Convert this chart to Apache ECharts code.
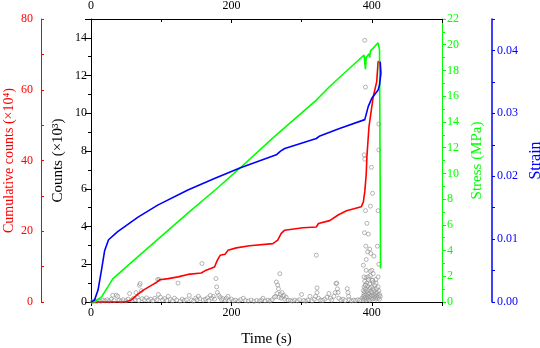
<!DOCTYPE html>
<html>
<head>
<meta charset="utf-8">
<script src="https://cdn.jsdelivr.net/npm/echarts@6/dist/echarts.min.js"></script>
<style>
  html, body { margin: 0; padding: 0; background: #fff; }
  #chart { width: 540px; height: 348px; }
</style>
</head>
<body>
<div id="chart"></div>
<script>
// AE counts (x10^3) against time (s) - quiet background hits
const countsBase = [
  [2,0.02],[5,0.05],[8,0.03],[11,0.08],[14,0.04],[17,0.1],[20,0.06],[23,0.12],[26,0.05],[29,0.15],
  [33,0.08],[40,0.1],[43,0.05],[46,0.12],[50,0.07],[53,0.15],[58,0.1],[61,0.2],[63,0.12],[66,0.25],
  [68,0.08],[73,0.18],[76,0.12],[79,0.22],[82,0.1],[85,0.15],[88,0.06],[91,0.2],[94,0.12],[99,0.25],
  [102,0.1],[105,0.18],[108,0.08],[113,0.14],[116,0.06],[119,0.2],[122,0.1],[127,0.05],[130,0.15],[133,0.08],
  [136,0.12],[143,0.1],[146,0.05],[149,0.2],[151,0.12],[155,0.18],[160,0.1],[163,0.15],[166,0.22],[168,0.08],
  [172,0.2],[174,0.3],[176,0.15],[184,0.25],[186,0.12],[188,0.18],[191,0.1],[193,0.2],[197,0.08],[200,0.15],
  [203,0.06],[206,0.1],[210,0.05],[213,0.12],[220,0.08],[224,0.05],[228,0.1],[232,0.04],[236,0.08],[240,0.05],
  [243,0.1],[248,0.06],[252,0.1],[255,0.05],[258,0.12],[261,0.25],[263,0.3],[265,0.45],[268,0.25],[271,0.2],
  [273,0.3],[276,0.15],[278,0.25],[281,0.1],[284,0.08],[287,0.05],[290,0.1],[294,0.06],[297,0.12],[303,0.08],
  [306,0.05],[309,0.1],[315,0.06],[318,0.15],[320,0.3],[324,0.2],[327,0.1],[330,0.08],[333,0.15],[336,0.25],
  [341,0.2],[343,0.1],[346,0.3],[348,0.5],[353,0.2],[356,0.1],[359,0.15],[362,0.08],[368,0.12],[371,0.06],
  [374,0.1],[377,0.08],[380,0.12],[383,0.1],[386,0.2]
];
// larger isolated hits
const countsEvents = [
  [31,0.36],[36,0.36],[38,0.3],[55,0.45],[64,0.5],[69,0.89],[70,0.98],[72,0.6],[95,1.2],[97,1.19],
  [96,0.4],[110,0.3],[124,1.0],[140,0.35],[153,0.3],[158,2.04],[170,0.35],[178,1.24],[179,0.8],[180,0.5],
  [182,0.35],[195,0.3],[217,0.2],[245,0.2],[264,1.06],[266,0.9],[267,0.7],[269,1.5],[270,0.4],[272,0.5],
  [275,0.35],[300,0.4],[312,0.3],[321,2.48],[322,0.75],[322,0.5],[339,0.45],[349,0.98],[350,1.0],[351,0.7],
  [352,0.5],[365,0.71],[366,0.5],[367,0.3]
];
// burst before failure
const countsBurst = [
  [388,0.1],[388,0.3],[388,0.6],[389,0.2],[389,0.45],[389,0.8],[390,0.15],[390,0.35],[390,0.55],[390,1.1],
  [391,0.25],[391,0.7],[391,0.9],[392,0.1],[392,0.4],[392,1.3],[393,0.2],[393,0.6],[393,1.0],[394,0.3],
  [394,0.5],[394,0.85],[395,0.15],[395,0.4],[395,1.2],[396,0.25],[396,0.65],[397,0.1],[397,0.45],[397,0.95],
  [398,0.3],[398,0.75],[398,1.4],[399,0.2],[399,0.55],[400,0.35],[400,0.8],[400,1.15],[401,0.15],[401,0.5],
  [402,0.3],[402,0.7],[402,1.05],[403,0.2],[403,0.6],[404,0.4],[404,0.9],[405,0.25],[405,0.55],[406,0.15],
  [406,0.45],[406,1.2],[407,0.3],[407,0.7],[408,0.2],[408,0.5],[409,0.35],[409,0.8],[410,0.25],[410,0.6],
  [411,0.15],[411,0.4],[412,0.3],
  [390,13.87],[391,11.39],[410,9.43],[410,8.06],[389,7.8],[390,7.57],[399.5,7.14],[401,5.76],[398,5.08],[391,4.84],
  [409,4.84],[393,4.17],[389.6,3.67],[395,3.6],[391.5,2.96],[397,2.8],[408,2.96],[398.5,2.57],[394,2.66],[403,2.43],
  [392,2.25],[410,2.0],[388,1.95],[392,1.68],[398,1.63],[400,1.68],[402,1.5],[389,1.33],[395,1.33],[401,1.15],
  [409,1.33],[391,0.89],[406,1.0]
];
// cumulative counts (x10^4)
const cumulative = [
  [0,0],[48,0],[57,0.5],[67,2.2],[74,3.3],[86,4.7],[93,5.5],[98,6.3],[110,6.6],[124,7.1],
  [138,7.8],[157,8.2],[164,9.0],[176,9.9],[178,10.9],[181,12.2],[184,13.2],[191,13.5],[195,14.6],[207,15.3],
  [226,15.9],[259,16.5],[266,17.5],[271,19.4],[276,20.3],[302,21],[321,21.2],[324,22.2],[340,23.0],[352,24.6],
  [364,25.8],[385,26.9],[388,28.3],[390,31.2],[392,36],[393,41],[396,49.6],[402,58],[407,62.3],[409,68],[412,68]
];
// stress (MPa)
const stress = [
  [0,0],[5,0],[15,0.4],[24,1.17],[31,1.8],[60,3.2],[100,5.1],[140,7.0],[181,8.9],[212,10.4],
  [260,12.8],[321,15.7],[340,16.75],[389,19.2],[390,18.6],[391,18.1],[392,19.0],[393,19.1],[396,19.3],[397,19.0],
  [398,19.5],[409,20.15],[410,19.9],[411,19.6],[412,19.5],[412.5,2.6]
];
// strain
const strain = [
  [0,0],[5,0.0003],[10,0.0019],[15,0.0051],[19.5,0.0082],[25,0.0099],[38,0.0112],[67,0.0135],[95,0.0154],[138,0.0178],
  [175,0.0196],[212,0.0213],[264,0.0234],[270,0.024],[276,0.0244],[321,0.026],[326,0.0264],[354,0.0276],[390,0.029],[395,0.0311],
  [400,0.0324],[409,0.0337],[411,0.0345],[413,0.0364],[412,0.0382]
];

const FONT = 'Liberation Serif';
const RED = '#ff0000', GREEN = '#00ff00', BLUE = '#0000ff';

function yAx(opt) {
  return Object.assign({
    type: 'value',
    nameLocation: 'middle',
    nameMoveOverlap: false,
    splitLine: { show: false },
    axisLine: { show: true, onZero: false, lineStyle: { color: '#000', width: 1 } },
    axisTick: { show: true, length: 4, lineStyle: { color: '#000' } },
    minorTick: { show: true, splitNumber: 2, length: 3, lineStyle: { color: '#000' } },
    axisLabel: { fontFamily: FONT, fontSize: 12, color: '#000', margin: 4, showMaxLabel: false },
    nameTextStyle: { fontFamily: FONT, fontSize: 15, color: '#000' }
  }, opt);
}

const chart = echarts.init(document.getElementById('chart'));
chart.setOption({
  animation: false,
  backgroundColor: '#fff',
  grid: { left: 91, right: 98, top: 19, bottom: 46, outerBoundsMode: 'none', containLabel: false },
  xAxis: [
    {
      type: 'value', position: 'bottom', min: 0, max: 500, interval: 200,
      name: 'Time (s)', nameLocation: 'middle', nameGap: 30, nameMoveOverlap: false,
      nameTextStyle: { fontFamily: FONT, fontSize: 15, color: '#000' },
      splitLine: { show: false },
      axisLine: { onZero: false, lineStyle: { color: '#000' } },
      axisTick: { length: 4, lineStyle: { color: '#000' } },
      minorTick: { show: true, splitNumber: 2, length: 3, lineStyle: { color: '#000' } },
      axisLabel: { fontFamily: FONT, fontSize: 12, color: '#000', margin: 5, showMaxLabel: false }
    },
    {
      type: 'value', position: 'top', min: 0, max: 500, interval: 200,
      splitLine: { show: false },
      axisLine: { onZero: false, lineStyle: { color: '#000' } },
      axisTick: { inside: true, length: 4, lineStyle: { color: '#000' } },
      minorTick: { show: true, splitNumber: 2, length: 3, lineStyle: { color: '#000' } },
      axisLabel: { fontFamily: FONT, fontSize: 12, color: '#000', margin: 7, showMaxLabel: false }
    }
  ],
  yAxis: [
    yAx({
      position: 'left', min: 0, max: 15, interval: 2,
      name: 'Counts (×10³)', nameGap: 25,
      axisTick: { show: true, length: 6, lineStyle: { color: '#000' } }
    }),
    yAx({
      position: 'left', offset: 50, min: 0, max: 80, interval: 20,
      name: 'Cumulative counts (×10⁴)', nameGap: 25,
      axisLine: { show: true, onZero: false, lineStyle: { color: RED, width: 1 } },
      axisTick: { show: true, inside: true, length: 3, lineStyle: { color: RED } },
      minorTick: { show: true, splitNumber: 2, length: 3, lineStyle: { color: RED } },
      axisLabel: { fontFamily: FONT, fontSize: 12, color: RED, margin: 8, showMaxLabel: true },
      nameTextStyle: { fontFamily: FONT, fontSize: 14, color: RED }
    }),
    yAx({
      position: 'right', min: 0, max: 22, interval: 2,
      name: 'Stress (MPa)', nameGap: 28,
      axisLine: { show: true, onZero: false, lineStyle: { color: GREEN, width: 1 } },
      axisTick: { show: true, length: 4, lineStyle: { color: GREEN } },
      minorTick: { show: true, splitNumber: 2, length: 3, lineStyle: { color: GREEN } },
      axisLabel: { fontFamily: FONT, fontSize: 12, color: GREEN, margin: 5, showMaxLabel: true },
      nameTextStyle: { fontFamily: FONT, fontSize: 15, color: GREEN }
    }),
    yAx({
      position: 'right', offset: 50, min: 0, max: 0.045, interval: 0.01,
      name: 'Strain', nameGap: 36,
      axisLine: { show: true, onZero: false, lineStyle: { color: BLUE, width: 1.5 } },
      axisTick: { show: true, length: 3, lineStyle: { color: BLUE } },
      minorTick: { show: true, splitNumber: 2, length: 3, lineStyle: { color: BLUE } },
      axisLabel: { fontFamily: FONT, fontSize: 12, color: BLUE, margin: 5, showMaxLabel: false,
        formatter: v => v.toFixed(2) },
      nameTextStyle: { fontFamily: FONT, fontSize: 16, color: BLUE }
    })
  ],
  series: [
    {
      type: 'scatter', xAxisIndex: 0, yAxisIndex: 0, symbol: 'circle', symbolSize: 4,
      itemStyle: { color: 'rgba(255,255,255,0.3)', borderColor: '#8a8a8a', borderWidth: 0.8 },
      data: countsBase.concat(countsEvents, countsBurst)
    },
    {
      type: 'line', xAxisIndex: 0, yAxisIndex: 1, showSymbol: false,
      lineStyle: { color: RED, width: 1.6 }, data: cumulative
    },
    {
      type: 'line', xAxisIndex: 0, yAxisIndex: 2, showSymbol: false,
      lineStyle: { color: GREEN, width: 1.6 }, data: stress
    },
    {
      type: 'line', xAxisIndex: 0, yAxisIndex: 3, showSymbol: false,
      lineStyle: { color: BLUE, width: 1.6 }, data: strain
    }
  ]
});
</script>
</body>
</html>
